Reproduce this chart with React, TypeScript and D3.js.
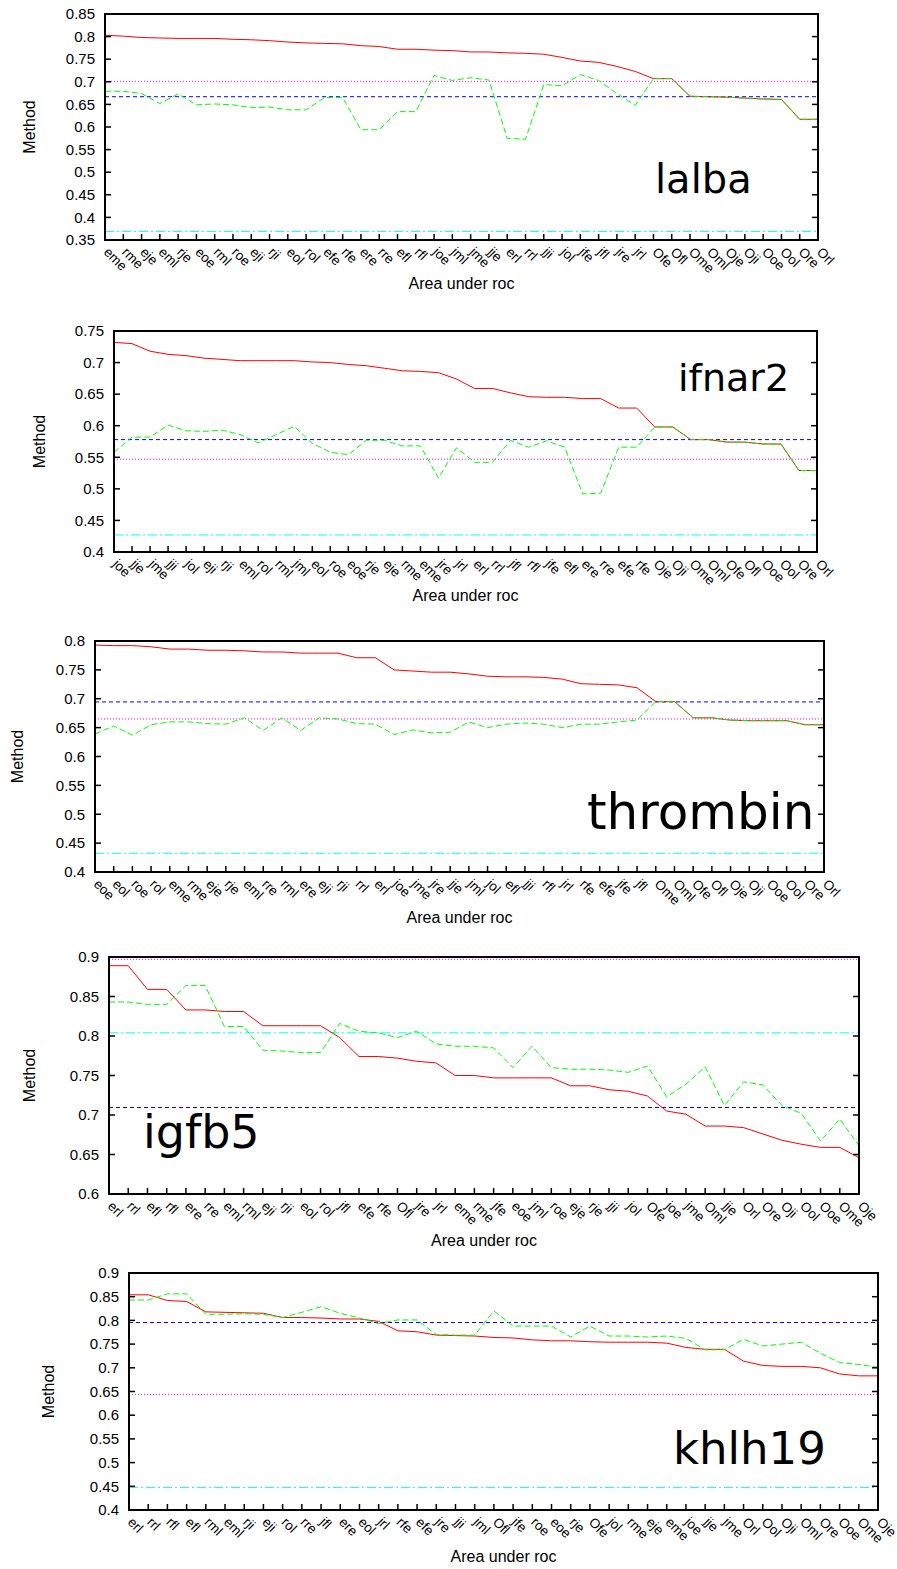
import * as d3 from 'd3'

// ---- data ----
const lalbaLabels = ['eme','rme','eje','eml','rje','eoe','rml','roe','eji','rji','eol','rol','efe','rfe','ere','rre','efl','rfl','joe','jml','jme','jje','erl','rrl','jji','jol','jfe','jfl','jre','jrl','Ofe','Ofl','Ome','Oml','Oje','Oji','Ooe','Ool','Ore','Orl']
const lalbaRed = [0.803,0.801,0.798,0.797,0.796,0.796,0.796,0.794,0.793,0.791,0.788,0.786,0.785,0.784,0.780,0.778,0.772,0.772,0.770,0.769,0.766,0.766,0.764,0.763,0.761,0.754,0.746,0.743,0.734,0.723,0.707,0.707,0.668,0.667,0.666,0.664,0.662,0.661,0.617,0.617]
const lalbaGreen = [0.679,0.679,0.674,0.652,0.673,0.649,0.651,0.649,0.643,0.644,0.638,0.638,0.665,0.665,0.594,0.594,0.634,0.634,0.714,0.703,0.709,0.704,0.575,0.573,0.694,0.691,0.716,0.703,0.674,0.648,0.707,0.707,0.668,0.667,0.666,0.664,0.662,0.661,0.617,0.617]
const lalbaRefs = [0.701, 0.667, 0.369] // dotted, dashed, dash-dot
const lalbaTicks = [0.35,0.4,0.45,0.5,0.55,0.6,0.65,0.7,0.75,0.8,0.85]

const ifnarLabels = ['joe','jje','jme','jji','jol','eji','rji','eml','rol','rml','jml','eol','roe','eoe','rje','eje','rme','eme','jre','jrl','erl','rrl','jfl','rfl','jfe','efl','ere','rre','efe','rfe','Oje','Oji','Ome','Oml','Ofe','Ofl','Ooe','Ool','Ore','Orl']
const ifnarRed = [0.732,0.730,0.718,0.713,0.711,0.707,0.705,0.703,0.703,0.703,0.703,0.701,0.700,0.697,0.695,0.691,0.687,0.686,0.684,0.674,0.659,0.659,0.652,0.646,0.645,0.645,0.643,0.643,0.628,0.628,0.598,0.598,0.578,0.578,0.574,0.574,0.571,0.571,0.529,0.529]
const ifnarGreen = [0.558,0.582,0.582,0.601,0.592,0.591,0.593,0.586,0.573,0.586,0.599,0.572,0.558,0.554,0.577,0.577,0.568,0.568,0.517,0.565,0.542,0.542,0.577,0.566,0.576,0.566,0.492,0.493,0.566,0.566,0.598,0.598,0.578,0.578,0.574,0.574,0.571,0.571,0.529,0.529]
const ifnarRefs = [0.547, 0.578, 0.427]
const ifnarTicks = [0.4,0.45,0.5,0.55,0.6,0.65,0.7,0.75]

const thrombinLabels = ['eoe','eol','roe','rol','eme','rme','eje','rje','eml','rre','rml','ere','eji','rji','rrl','erl','joe','jme','jre','jje','jml','jol','efl','jji','rfl','jrl','rfe','efe','jfe','jfl','Ome','Oml','Ofe','Ofl','Oje','Oji','Ooe','Ool','Ore','Orl']
const thrombinRed = [0.793,0.792,0.792,0.790,0.786,0.786,0.784,0.784,0.783,0.781,0.781,0.779,0.779,0.779,0.771,0.771,0.750,0.748,0.746,0.746,0.743,0.739,0.738,0.738,0.737,0.734,0.726,0.725,0.724,0.719,0.695,0.695,0.667,0.667,0.663,0.662,0.662,0.662,0.655,0.655]
const thrombinGreen = [0.639,0.653,0.637,0.655,0.660,0.660,0.657,0.656,0.667,0.645,0.667,0.645,0.667,0.665,0.657,0.656,0.638,0.646,0.641,0.642,0.660,0.650,0.656,0.658,0.656,0.650,0.656,0.656,0.660,0.663,0.695,0.695,0.667,0.667,0.663,0.662,0.662,0.662,0.655,0.655]
const thrombinRefs = [0.665, 0.6945, 0.4325]
const thrombinTicks = [0.4,0.45,0.5,0.55,0.6,0.65,0.7,0.75,0.8]

const igfbLabels = ['erl','rrl','efl','rfl','ere','rre','eml','rml','eji','rji','eol','rol','jfl','efe','rfe','Ofl','jre','jrl','eme','rme','jfe','eoe','jml','roe','eje','rje','jji','jol','Ofe','joe','jme','Oml','jje','Orl','Ore','Oji','Ool','Ooe','Ome','Oje']
const igfbRed = [0.889,0.889,0.859,0.859,0.833,0.833,0.831,0.831,0.813,0.813,0.813,0.813,0.798,0.774,0.774,0.772,0.768,0.766,0.750,0.750,0.747,0.747,0.747,0.747,0.737,0.737,0.732,0.730,0.724,0.705,0.701,0.686,0.686,0.684,0.676,0.668,0.663,0.659,0.659,0.646]
const igfbGreen = [0.843,0.843,0.840,0.840,0.864,0.864,0.812,0.812,0.782,0.781,0.779,0.779,0.816,0.806,0.804,0.798,0.806,0.790,0.787,0.787,0.785,0.760,0.787,0.760,0.758,0.758,0.757,0.754,0.762,0.723,0.739,0.761,0.712,0.742,0.738,0.712,0.702,0.667,0.695,0.661]
const igfbRefs = [0.897, 0.7095, 0.804]
const igfbTicks = [0.6,0.65,0.7,0.75,0.8,0.85,0.9]

const khlhLabels = ['erl','rrl','rfl','efl','rml','eml','rji','eji','rol','rre','jfl','ere','eol','jrl','rfe','efe','jre','jji','jml','Ofl','jfe','roe','eoe','rje','Ofe','jol','rme','eje','eme','joe','jje','jme','Orl','Ool','Oji','Oml','Ore','Ooe','Ome','Oje']
const khlhRed = [0.854,0.854,0.842,0.840,0.818,0.817,0.816,0.815,0.806,0.806,0.805,0.803,0.803,0.798,0.778,0.776,0.769,0.768,0.767,0.764,0.763,0.759,0.757,0.757,0.755,0.754,0.754,0.754,0.752,0.743,0.739,0.739,0.714,0.705,0.703,0.703,0.700,0.687,0.683,0.683]
const khlhGreen = [0.843,0.843,0.856,0.856,0.813,0.813,0.814,0.813,0.806,0.817,0.829,0.815,0.805,0.793,0.801,0.801,0.770,0.769,0.769,0.820,0.788,0.788,0.788,0.765,0.788,0.767,0.767,0.765,0.767,0.762,0.738,0.738,0.760,0.746,0.750,0.754,0.731,0.711,0.707,0.701]
const khlhRefs = [0.644, 0.7956, 0.4473]
const khlhTicks = [0.4,0.45,0.5,0.55,0.6,0.65,0.7,0.75,0.8,0.85,0.9]

// ---- panels (layout separate from data) ----
const panels = [
  { name: 'lalba', labels: lalbaLabels, red: lalbaRed, green: lalbaGreen, refs: lalbaRefs, ticks: lalbaTicks,
    box: { left: 105, right: 818, top: 14, bottom: 240 }, methodX: 29, xlabY: 289,
    title: { x: 655, y: 193, size: 40 } },
  { name: 'ifnar2', labels: ifnarLabels, red: ifnarRed, green: ifnarGreen, refs: ifnarRefs, ticks: ifnarTicks,
    box: { left: 114, right: 817, top: 331, bottom: 552 }, methodX: 39, xlabY: 601,
    title: { x: 678, y: 391, size: 38 } },
  { name: 'thrombin', labels: thrombinLabels, red: thrombinRed, green: thrombinGreen, refs: thrombinRefs, ticks: thrombinTicks,
    box: { left: 95, right: 824, top: 641, bottom: 872 }, methodX: 17, xlabY: 923,
    title: { x: 587, y: 829, size: 50 } },
  { name: 'igfb5', labels: igfbLabels, red: igfbRed, green: igfbGreen, refs: igfbRefs, ticks: igfbTicks,
    box: { left: 109, right: 859, top: 957, bottom: 1194 }, methodX: 29, xlabY: 1246,
    title: { x: 143, y: 1148, size: 46 } },
  { name: 'khlh19', labels: khlhLabels, red: khlhRed, green: khlhGreen, refs: khlhRefs, ticks: khlhTicks,
    box: { left: 129, right: 878, top: 1273, bottom: 1510 }, methodX: 48, xlabY: 1562,
    title: { x: 673, y: 1464, size: 45 } },
]

const refStyles = [
  { stroke: '#ff00ff', dash: '1,2' },     // dotted
  { stroke: '#0000ff', dash: '4,3' },     // dashed
  { stroke: '#00ffff', dash: '9,3,2,3' }, // dash-dot
]

const FONT = '"Liberation Sans", Arial, Helvetica, sans-serif'
const fmt = (v: number) => String(+v.toFixed(2))

function Panel({ p, idx }: { p: any; idx: number }) {
  const { left, right, top, bottom } = p.box
  const x = d3.scalePoint<string>().domain(p.labels).range([left, right]).padding(0)
  const y = d3.scaleLinear().domain([p.ticks[0], p.ticks[p.ticks.length - 1]]).range([bottom, top])
  const line = d3.line<number>()
    .x((_, i) => x(p.labels[i]) as number)
    .y(d => y(d))
  const clipId = `clip-${idx}`
  const midX = (left + right) / 2
  const midY = (top + bottom) / 2

  return (
    <g>
      <defs>
        <clipPath id={clipId}>
          <rect x={left} y={top} width={right - left} height={bottom - top} />
        </clipPath>
      </defs>
      <g clipPath={`url(#${clipId})`}>
        {p.refs.map((v: number, i: number) => (
          <line key={i} x1={left} x2={right} y1={y(v)} y2={y(v)}
            stroke={refStyles[i].stroke} strokeWidth={1} strokeDasharray={refStyles[i].dash} />
        ))}
        <path d={line(p.red) || ''} fill="none" stroke="#ff0000" strokeWidth={1} />
        <path d={line(p.green) || ''} fill="none" stroke="#00ff00" strokeWidth={1} strokeDasharray="6,3" />
      </g>

      {/* y ticks, left and mirrored right */}
      {p.ticks.map((t: number) => (
        <g key={t}>
          <line x1={left} x2={left + 6} y1={y(t)} y2={y(t)} stroke="#000" strokeWidth={1.5} />
          <line x1={right - 6} x2={right} y1={y(t)} y2={y(t)} stroke="#000" strokeWidth={1.5} />
          <text x={left - 10} y={y(t)} dy="0.35em" textAnchor="end" fontSize={15} fontFamily={FONT} fill="#000">
            {fmt(t)}
          </text>
        </g>
      ))}

      {/* x ticks with rotated labels */}
      {p.labels.map((l: string) => {
        const tx = x(l) as number
        return (
          <g key={l}>
            <line x1={tx} x2={tx} y1={bottom} y2={bottom - 6} stroke="#000" strokeWidth={1.5} />
            <text transform={`translate(${tx - 2},${bottom + 13}) rotate(45)`} fontSize={13.5} fontFamily={FONT} fill="#000">
              {l}
            </text>
          </g>
        )
      })}

      <rect x={left} y={top} width={right - left} height={bottom - top} fill="none" stroke="#000" strokeWidth={2} />

      <text transform={`translate(${p.methodX + 5.5},${midY}) rotate(-90)`} textAnchor="middle"
        fontSize={16} fontFamily={FONT} fill="#000">Method</text>
      <text x={midX} y={p.xlabY} textAnchor="middle" fontSize={16} fontFamily={FONT} fill="#000">Area under roc</text>

      <text x={p.title.x} y={p.title.y} fontSize={p.title.size} fontFamily='"DejaVu Sans", sans-serif' fill="#000">
        {p.name}
      </text>
    </g>
  )
}

export default function App() {
  return (
    <div style={{ position: 'absolute', left: 0, top: 0, background: '#fff' }}>
      <svg width={897} height={1569} viewBox="0 0 897 1569">
        <rect width={897} height={1569} fill="#fff" />
        {panels.map((p, i) => <Panel key={p.name} p={p} idx={i} />)}
      </svg>
    </div>
  )
}
